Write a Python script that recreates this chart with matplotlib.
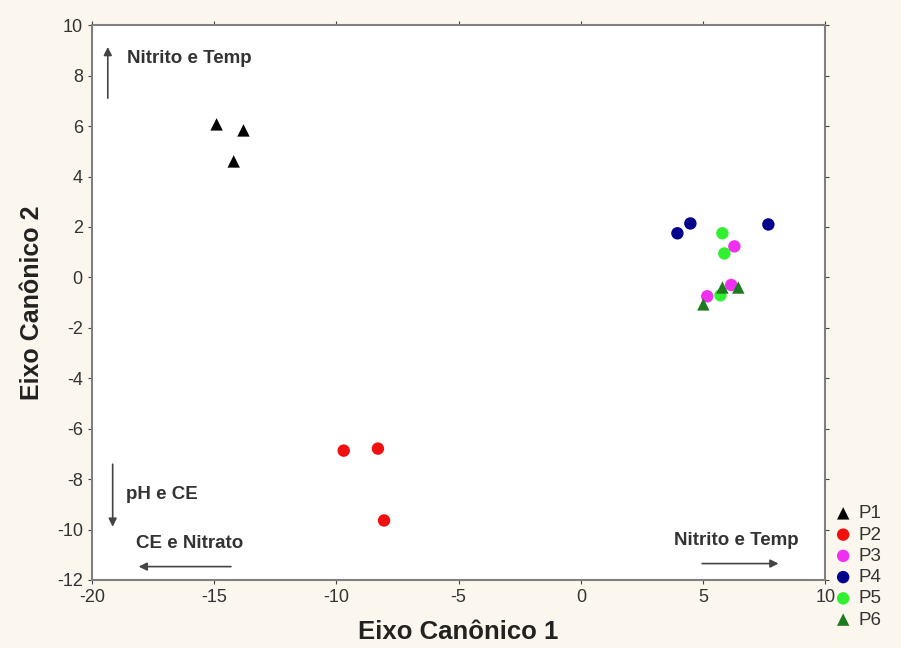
import matplotlib
matplotlib.use('Agg')
import matplotlib.pyplot as plt

plt.rcParams['font.family'] = ['Liberation Sans', 'DejaVu Sans']
plt.rcParams['axes.unicode_minus'] = False

# canonical scores per group
groups = ['P1', 'P2', 'P3', 'P4', 'P5', 'P6']
p1_x = [-14.9, -13.8, -14.2]
p1_y = [6.07, 5.83, 4.6]
p2_x = [-9.7, -8.3, -8.05]
p2_y = [-6.87, -6.79, -9.64]
p3_x = [6.28, 5.17, 6.15]
p3_y = [1.23, -0.75, -0.3]
p4_x = [3.95, 4.48, 7.67]
p4_y = [1.75, 2.14, 2.10]
p5_x = [5.79, 5.87, 5.71]
p5_y = [1.75, 0.95, -0.71]
p6_x = [5.01, 5.79, 6.44]
p6_y = [-1.07, -0.4, -0.4]

xs = [p1_x, p2_x, p3_x, p4_x, p5_x, p6_x]
ys = [p1_y, p2_y, p3_y, p4_y, p5_y, p6_y]
markers = ['^', 'o', 'o', 'o', 'o', '^']
colors = ['#000000', '#f01010', '#f030f0', '#00008c', '#30f030', '#1e7a1e']

fig = plt.figure(figsize=(9.01, 6.48), dpi=100, facecolor='#fcf7ee')
ax = fig.add_axes([0.102, 0.105, 0.814, 0.856])
ax.set_facecolor('white')

for g, x, y, m, c in zip(groups, xs, ys, markers, colors):
    ax.scatter(x, y, marker=m, s=80, color=c, label=g, edgecolors='none', zorder=3)

ax.set_xlim(-20, 10)
ax.set_ylim(-12, 10)
ax.set_xticks(range(-20, 11, 5))
ax.set_yticks(range(-12, 11, 2))
ax.tick_params(labelsize=13, colors='#444444', labelcolor='#333333', length=3)
ax.tick_params(top=True, right=True)
for s in ax.spines.values():
    s.set_color('#808080')
    s.set_linewidth(1.5)

ax.set_xlabel('Eixo Canônico 1', fontsize=18.5, fontweight='bold', color='#222222', labelpad=10)
ax.set_ylabel('Eixo Canônico 2', fontsize=18, fontweight='bold', color='#222222', labelpad=9)

# direction arrows for the variables
arr = dict(arrowstyle='-|>', color='#444444', lw=1.2, mutation_scale=12)
tkw = dict(fontsize=13.5, fontweight='bold', color='#333333', va='center')
ax.annotate('', xy=(-19.35, 9.25), xytext=(-19.35, 7.0), arrowprops=arr)
ax.text(-18.55, 8.7, 'Nitrito e Temp', **tkw)
ax.annotate('', xy=(-19.15, -10.0), xytext=(-19.15, -7.3), arrowprops=arr)
ax.text(-18.6, -8.6, 'pH e CE', **tkw)
ax.annotate('', xy=(-18.2, -11.47), xytext=(-14.2, -11.47), arrowprops=arr)
ax.text(-18.2, -10.55, 'CE e Nitrato', **tkw)
ax.annotate('', xy=(8.2, -11.35), xytext=(4.85, -11.35), arrowprops=arr)
ax.text(6.35, -10.45, 'Nitrito e Temp', ha='center', **tkw)

leg = fig.legend(loc='upper left', bbox_to_anchor=(0.915, 0.232), frameon=False,
                 fontsize=13.5, handletextpad=0.2, labelspacing=0.22, borderaxespad=0,
                 handlelength=1.2)
for t in leg.get_texts():
    t.set_color('#333333')

fig.savefig('out.png', dpi=100, facecolor=fig.get_facecolor())
